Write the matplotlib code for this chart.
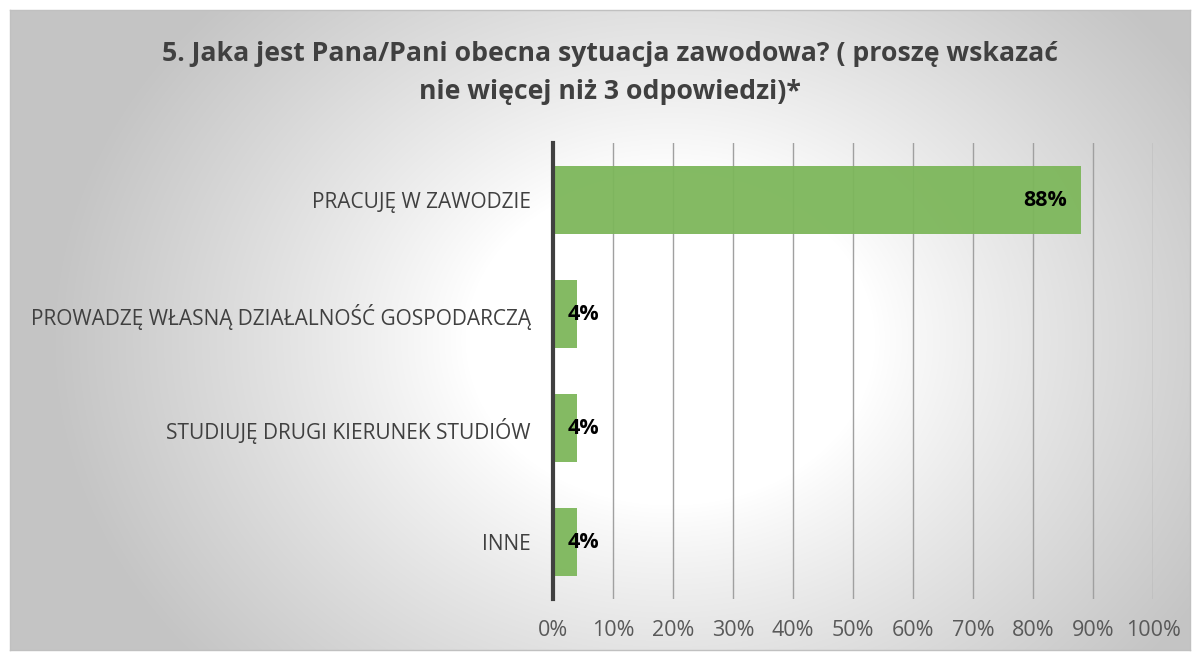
import numpy as np
import matplotlib
matplotlib.use("Agg")
import matplotlib.pyplot as plt

categories = ["PRACUJĘ W ZAWODZIE", "PROWADZĘ WŁASNĄ DZIAŁALNOŚĆ GOSPODARCZĄ",
              "STUDIUJĘ DRUGI KIERUNEK STUDIÓW", "INNE"]
values = [88, 4, 4, 4]
xticks = [0, 10, 20, 30, 40, 50, 60, 70, 80, 90, 100]
xtick_labels = [f"{t}%" for t in xticks]
title = "5. Jaka jest Pana/Pani obecna sytuacja zawodowa? ( proszę wskazać\nnie więcej niż 3 odpowiedzi)*"

plt.rcParams['font.family'] = ['Open Sans', 'DejaVu Sans']

W, H = 1195, 653
fig = plt.figure(figsize=(W / 100, H / 100), dpi=100)
fig.patch.set_facecolor("white")

# background gradient panel
bg = fig.add_axes([10 / W, 3 / H, 1180 / W, 640 / H])
gw, gh = 1180, 640
xx, yy = np.meshgrid(np.arange(gw), np.arange(gh))
cx, cy = 660, 330
d = np.sqrt(((xx - cx) / 620.0) ** 2 + ((yy - cy) / 500.0) ** 2)
d = np.clip((d - 0.33) / 0.67, 0, 1)
v = 1.0 - (1.0 - 0.77) * d ** 0.9
img = np.dstack([v, v, v])
bg.imshow(img, aspect='auto', extent=[0, gw, gh, 0], interpolation='bilinear')
bg.set_xticks([])
bg.set_yticks([])
for s in bg.spines.values():
    s.set_color("#c0c0c0")
    s.set_linewidth(1.0)

ax = fig.add_axes([553 / W, (H - 599) / H, 600 / W, 456 / H])
ax.set_facecolor("none")
y = np.arange(len(categories))
ax.barh(y, values, height=0.6, color="#7db75b", alpha=0.95, zorder=3)
ax.set_ylim(len(categories) - 0.5, -0.5)
ax.set_xlim(0, 100)
ax.set_xticks(xticks)
ax.set_xticklabels(xtick_labels, fontsize=15.5, color="#595959")
ax.set_yticks(y)
ax.set_yticklabels(categories, fontsize=15, color="#404040")
ax.tick_params(axis='both', length=0)
ax.tick_params(axis='y', pad=16)
ax.tick_params(axis='x', pad=15)
ax.grid(axis='x', color="#a0a0a0", linewidth=1.0, zorder=1)
ax.set_axisbelow(True)
for s in ["top", "right", "bottom"]:
    ax.spines[s].set_visible(False)
ax.spines["left"].set_color("#404040")
ax.spines["left"].set_linewidth(3)
ax.spines["left"].set_zorder(5)

for yi, val in zip(y, values):
    if val > 20:
        ax.text(val - 2.4, yi, f"{val}%", ha='right', va='center', fontsize=15.5,
                fontweight='bold', color="black", zorder=6)
    else:
        ax.text(2.4, yi, f"{val}%", ha='left', va='center', fontsize=15.5,
                fontweight='bold', color="black", zorder=6)

fig.text(610 / W, 1 - 73 / H, title, ha='center', va='center', fontsize=19.2,
         fontweight='bold', color="#404040", linespacing=1.6)

fig.savefig("out.png", dpi=100)
